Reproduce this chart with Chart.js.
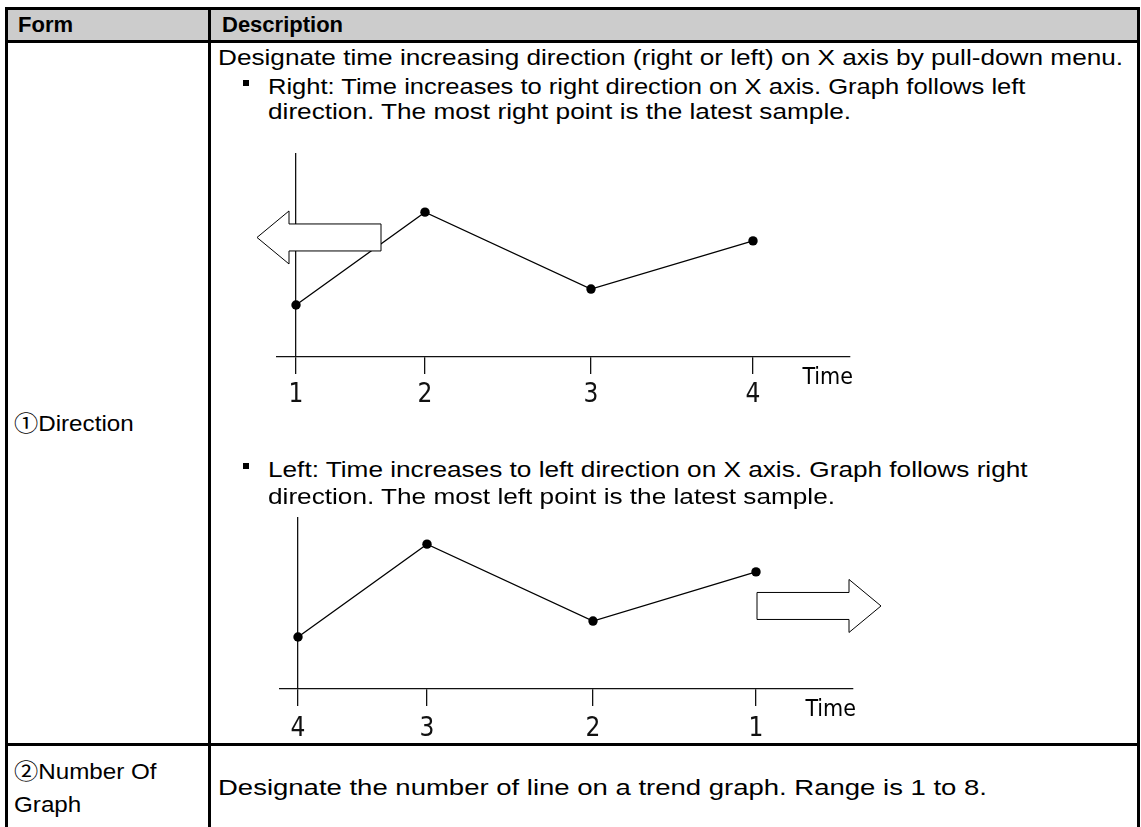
<!DOCTYPE html>
<html>
<head>
<meta charset="utf-8">
<script src="https://cdn.jsdelivr.net/npm/chart.js@4.4.1/dist/chart.umd.min.js"></script>
<style>
  body { margin: 0; width: 1141px; height: 827px; overflow: hidden; position: relative; background: #fff;
         font-family: "Liberation Sans", Arial, "Noto Sans CJK KR", sans-serif; color: #000; }
  .ln { position: absolute; background: #000; z-index: 3; }
  .t { position: absolute; white-space: nowrap; font-size: 22px; line-height: 22px; z-index: 2;
       transform: scaleX(1.19); transform-origin: 0 50%; }
  .h { font-weight: bold; transform: none; }
  .f { transform: scaleX(1.1); }
  .dot { position: absolute; width: 6px; height: 6px; background: #000; }
  canvas { position: absolute; z-index: 1; }
</style>
</head>
<body>
<!-- table frame -->
<div style="position:absolute;left:8px;top:10px;width:1129px;height:30px;background:#cccccc"></div>
<div class="ln" style="left:5px;top:7px;width:1135px;height:3px"></div>
<div class="ln" style="left:5px;top:7px;width:3px;height:820px"></div>
<div class="ln" style="left:1137px;top:7px;width:3px;height:820px"></div>
<div class="ln" style="left:5px;top:40px;width:1135px;height:3px"></div>
<div class="ln" style="left:208px;top:7px;width:3px;height:820px"></div>
<div class="ln" style="left:5px;top:743px;width:1135px;height:3px"></div>

<div class="t h" style="left:18px;top:14px">Form</div>
<div class="t h" style="left:222px;top:14px">Description</div>

<div class="t" style="left:218px;top:47px">Designate time increasing direction (right or left) on X axis by pull-down menu.</div>
<div class="dot" style="left:243px;top:80px"></div>
<div class="t" style="left:268px;top:76px;transform:scaleX(1.16)">Right: Time increases to right direction on X axis. Graph follows left</div>
<div class="t" style="left:268px;top:101px">direction. The most right point is the latest sample.</div>
<div class="t f" style="left:14px;top:413px">①Direction</div>
<div class="dot" style="left:243px;top:463px"></div>
<div class="t" style="left:268px;top:459px">Left: Time increases to left direction on X axis. Graph follows right</div>
<div class="t" style="left:268px;top:486px">direction. The most left point is the latest sample.</div>
<div class="t f" style="left:14px;top:761px">②Number Of</div>
<div class="t f" style="left:14px;top:794px">Graph</div>
<div class="t" style="left:218px;top:777px;transform:scaleX(1.25)">Designate the number of line on a trend graph. Range is 1 to 8.</div>

<canvas id="rightChart" width="620" height="280" style="left:250px;top:140px"></canvas>
<canvas id="leftChart" width="650" height="250" style="left:250px;top:505px"></canvas>

<script>
const sampleLabels = ['1', '2', '3', '4'];

// Right: time grows to the right, sample 1 sits on the Y axis
const rightTimes = [0, 1.29, 2.95, 4.57];
const rightValues = [2.55, 7.1, 3.33, 5.69];

// Left: time grows to the left, sample 4 sits on the Y axis
const leftTimes = [0, 1.63, 3.29, 4.58];
const leftValues = [5.74, 3.33, 7.1, 2.55];

const axisFont = { family: "'Liberation Sans Narrow', 'DejaVu Sans Condensed', sans-serif", size: 26 };

// hollow block arrow showing which way the graph moves
const arrowPlugin = {
  id: 'dirArrow',
  afterDatasetsDraw(chart, args, o) {
    const { ctx, scales: { x, y } } = chart;
    const tail = x.getPixelForValue(o.at) + o.shift;
    const cy = y.getPixelForValue(o.level);
    const d = o.dir, body = 92, head = 32, bh = 13.5, hh = 26.5;
    ctx.save();
    ctx.beginPath();
    ctx.moveTo(tail, cy - bh);
    ctx.lineTo(tail + d * body, cy - bh);
    ctx.lineTo(tail + d * body, cy - hh);
    ctx.lineTo(tail + d * (body + head), cy);
    ctx.lineTo(tail + d * body, cy + hh);
    ctx.lineTo(tail + d * body, cy + bh);
    ctx.lineTo(tail, cy + bh);
    ctx.closePath();
    ctx.fillStyle = '#fff';
    ctx.fill();
    ctx.lineWidth = 1;
    ctx.strokeStyle = '#000';
    ctx.stroke();
    ctx.restore();
  }
};

const timeLabel = {
  id: 'timeLabel',
  afterDraw(chart) {
    const { ctx, chartArea } = chart;
    ctx.save();
    ctx.font = "23px 'Liberation Sans Narrow', 'DejaVu Sans Condensed', sans-serif";
    ctx.fillStyle = '#000';
    ctx.textAlign = 'right';
    ctx.textBaseline = 'middle';
    ctx.fillText('Time', chartArea.right + 3, chartArea.bottom + 21);
    ctx.restore();
  }
};

function trendChart(id, times, values, opt) {
  return new Chart(document.getElementById(id), {
    type: 'line',
    data: {
      datasets: [{
        data: times.map((t, i) => ({ x: t, y: values[i] })),
        borderColor: '#000',
        borderWidth: 1.3,
        pointRadius: 4.7,
        pointBackgroundColor: '#000',
        pointBorderWidth: 0,
        tension: 0
      }]
    },
    options: {
      responsive: false,
      animation: false,
      layout: { padding: opt.padding },
      plugins: {
        legend: { display: false },
        tooltip: { enabled: false },
        dirArrow: opt.arrow
      },
      scales: {
        x: {
          type: 'linear',
          reverse: opt.reverse,
          min: opt.min,
          max: opt.max,
          afterBuildTicks: (scale) => { scale.ticks = times.map(v => ({ value: v })); },
          ticks: {
            color: '#111',
            font: axisFont,
            padding: opt.labelPad,
            maxRotation: 0,
            autoSkip: false,
            callback: (v) => sampleLabels[times.indexOf(v)]
          },
          grid: {
            color: (c) => (c.tick && c.tick.value === opt.axisAt) ? '#111' : 'rgba(0,0,0,0)',
            tickColor: '#111',
            tickLength: 17,
            lineWidth: 1.3
          },
          border: { display: true, color: '#111', width: 1.3 }
        },
        y: { display: false, min: 0, max: opt.yMax }
      }
    },
    plugins: [arrowPlugin, timeLabel]
  });
}

trendChart('rightChart', rightTimes, rightValues, {
  reverse: false, min: -0.19, max: 5.54, yMax: 10, axisAt: rightTimes[0], labelPad: 6,
  padding: { left: 27, right: 20, top: 13, bottom: 2.8 },
  arrow: { at: rightTimes[0], shift: 85, level: 5.86, dir: -1 }
});

trendChart('leftChart', leftTimes, leftValues, {
  reverse: true, min: -0.97, max: 4.76, yMax: 8.43, axisAt: leftTimes[3], labelPad: 8,
  padding: { left: 30, right: 47, top: 12, bottom: 1.8 },
  arrow: { at: leftTimes[0], shift: 1, level: 4.07, dir: 1 }
});
</script>
</body>
</html>
